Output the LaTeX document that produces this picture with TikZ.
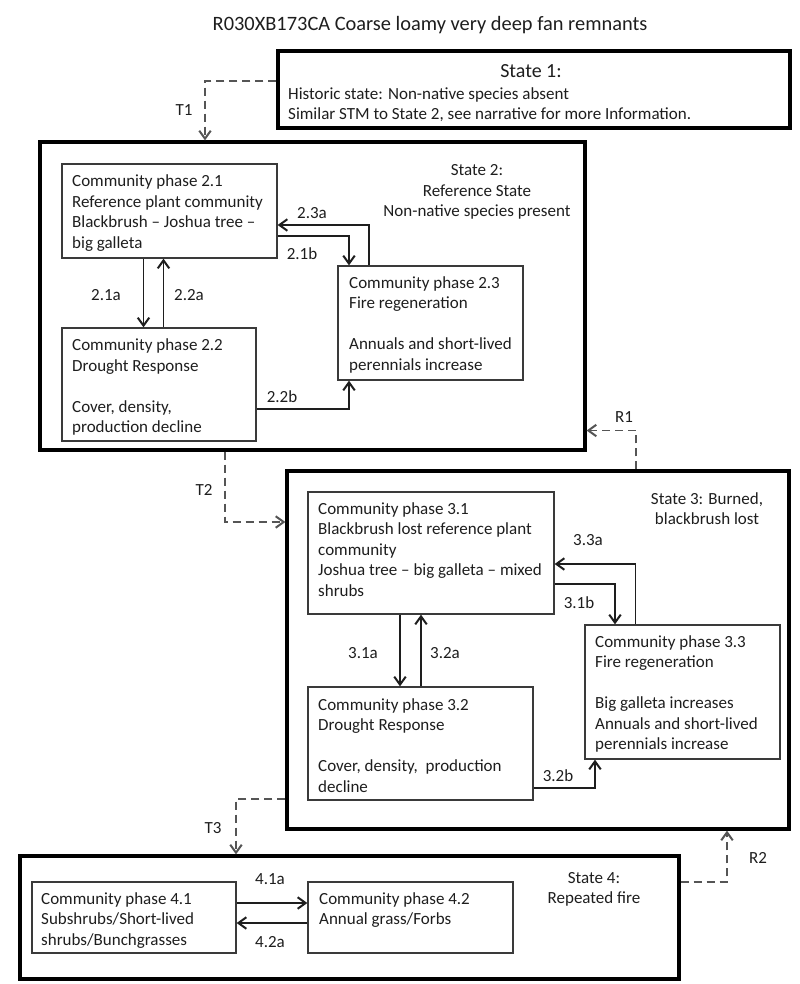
\documentclass[tikz,border=0pt]{standalone}
\usepackage{fontspec}
\setmainfont{Carlito}
\usetikzlibrary{arrows.meta,calc}
\definecolor{ink}{HTML}{1E1E1E}
\definecolor{boxgray}{HTML}{3A3A3A}
\definecolor{dashgray}{HTML}{555555}
\tikzset{
  body/.style={font=\fontsize{17bp}{20.5bp}\selectfont, text=ink},
  statebox/.style={draw=black, line width=3.2bp, inner sep=0pt},
  phasebox/.style={draw=boxgray, line width=1.3bp, inner sep=0pt},
  phasetext/.style={body, align=left, anchor=north west, inner sep=0pt},
  statetext/.style={body, align=center, anchor=north, inner sep=0pt},
  lbl/.style={body, inner sep=0pt},
  tip/.style={-{Straight Barb[length=8bp,width=11.5bp,line width=2bp]}},
  flow/.style={draw=ink, line width=1.3bp, tip},
  trans/.style={draw=dashgray, line width=1.5bp, dash pattern=on 8bp off 5bp, tip}
}
\begin{document}
\begin{tikzpicture}[x=1bp,y=-1bp]
\useasboundingbox[fill=white] (0,0) rectangle (800,984);

% title
\node[body, font=\fontsize{20.4bp}{24bp}\selectfont, inner sep=0pt] (title) at (430,25) {R030XB173CA Coarse loamy very deep fan remnants};

% state boxes
\node[statebox, minimum width=512bp, minimum height=77bp] (s1) at (534,89.5) {};
\node[statebox, minimum width=545bp, minimum height=308bp] (s2) at (312.5,296) {};
\node[statebox, minimum width=502bp, minimum height=358bp] (s3) at (538,650) {};
\node[statebox, minimum width=659bp, minimum height=123bp] (s4) at (349.5,917.5) {};

% state 1 text
\node[body, font=\fontsize{20bp}{24bp}\selectfont, inner sep=0pt] (s1head) at (531,71) {State 1:};
\node[phasetext] (s1txt) at (288,87) {Historic state: Non-native species absent\\Similar STM to State 2, see narrative for more Information.};

% state labels
\node[statetext] (s2lbl) at (477,164.7) {State 2:\\Reference State\\Non-native species present};
\node[statetext] (s3lbl) at (707,492.3) {State 3: Burned,\\blackbrush lost};
\node[statetext] (s4lbl) at (594,872) {State 4:\\Repeated fire};

% phase boxes
\node[phasebox, minimum width=215bp, minimum height=94bp] (p21) at (169.5,211) {};
\node[phasebox, minimum width=194bp, minimum height=113bp] (p22) at (159,384.5) {};
\node[phasebox, minimum width=185bp, minimum height=114bp] (p23) at (430.5,323) {};
\node[phasebox, minimum width=246bp, minimum height=122bp] (p31) at (431,553) {};
\node[phasebox, minimum width=225bp, minimum height=113bp] (p32) at (420.5,743.5) {};
\node[phasebox, minimum width=195bp, minimum height=134bp] (p33) at (682.5,692) {};
\node[phasebox, minimum width=204bp, minimum height=71bp] (p41) at (134,917.5) {};
\node[phasebox, minimum width=205bp, minimum height=71bp] (p42) at (410.5,917.5) {};

% phase texts
\node[phasetext] (p21t) at (72,174.7) {Community phase 2.1\\Reference plant community\\Blackbrush -- Joshua tree --\\big galleta};
\node[phasetext] (p22t) at (72,338.7) {Community phase 2.2\\Drought Response\\[20.5bp]Cover, density,\\production decline};
\node[phasetext] (p23t) at (349,276.3) {Community phase 2.3\\Fire regeneration\\[20.5bp]Annuals and short-lived\\perennials increase};
\node[phasetext] (p31t) at (318,502.3) {Community phase 3.1\\Blackbrush lost reference plant\\community\\Joshua tree -- big galleta -- mixed\\shrubs};
\node[phasetext] (p32t) at (318,698) {Community phase 3.2\\Drought Response\\[20.5bp]Cover, density,~ production\\decline};
\node[phasetext] (p33t) at (595,635.3) {Community phase 3.3\\Fire regeneration\\[20.5bp]Big galleta increases\\Annuals and short-lived\\perennials increase};
\node[phasetext] (p41t) at (41,892.3) {Community phase 4.1\\Subshrubs/Short-lived\\shrubs/Bunchgrasses};
\node[phasetext] (p42t) at (319,892.3) {Community phase 4.2\\Annual grass/Forbs};

% transitions (dashed)
\draw[trans] ([yshift=8.5bp]s1.west) -| ([xshift=-107.5bp]s2.north);
\node[lbl] (t1) at (184,110) {T1};
\draw[trans] ([xshift=-87.5bp]s2.south) |- ([yshift=128bp]s3.west);
\node[lbl] (t2) at (204,490) {T2};
\draw[trans] ([xshift=98bp]s3.north) |- ([yshift=-134.5bp]s2.east);
\node[lbl] (r1) at (624,417) {R1};
\draw[trans] ([yshift=-149bp]s3.west) -| ([xshift=-113.5bp]s4.north);
\node[lbl] (t3) at (213,828) {T3};
\draw[trans] ([yshift=35.5bp]s4.east) -| ([xshift=189bp]s3.south);
\node[lbl] (r2) at (758,858) {R2};

% state 2 pathways
\draw[flow] ([xshift=-26bp]p21.south) -- ([xshift=-26bp]p21.south |- p22.north);
\node[lbl] (l21a) at (106,295) {2.1a};
\draw[flow] ([xshift=-6bp]p21.south |- p22.north) -- ([xshift=-6bp]p21.south);
\node[lbl] (l22a) at (189,295) {2.2a};
\draw[flow] ([xshift=-61.5bp]p23.north) |- ([yshift=-14bp]p21.east);
\node[lbl] (l23a) at (312,213) {2.3a};
\draw[flow] ([yshift=-25bp]p21.east) -| ([xshift=-81.5bp]p23.north);
\node[lbl] (l21b) at (302,254) {2.1b};
\draw[flow] ([yshift=-24.5bp]p22.east) -| ([xshift=-81.5bp]p23.south);
\node[lbl] (l22b) at (282,397) {2.2b};

% state 3 pathways
\draw[flow] ([xshift=-31bp]p31.south) -- ([xshift=-31bp]p31.south |- p32.north);
\node[lbl] (l31a) at (363,653) {3.1a};
\draw[flow] ([xshift=-10bp]p31.south |- p32.north) -- ([xshift=-10bp]p31.south);
\node[lbl] (l32a) at (445,653) {3.2a};
\draw[flow] ([xshift=-47bp]p33.north) |- ([yshift=-11bp]p31.east);
\node[lbl] (l33a) at (588,540) {3.3a};
\draw[flow] ([yshift=-31bp]p31.east) -| ([xshift=-67.5bp]p33.north);
\node[lbl] (l31b) at (579,603) {3.1b};
\draw[flow] ([yshift=-44.5bp]p32.east) -| ([xshift=-87.5bp]p33.south);
\node[lbl] (l32b) at (558,776) {3.2b};

% state 4 pathways
\draw[flow] ([yshift=14.5bp]p41.east) -- ([yshift=14.5bp]p41.east -| p42.west);
\node[lbl] (l41a) at (270,879) {4.1a};
\draw[flow] ([yshift=-5.5bp]p41.east -| p42.west) -- ([yshift=-5.5bp]p41.east);
\node[lbl] (l42a) at (270,942) {4.2a};
\end{tikzpicture}
\end{document}
